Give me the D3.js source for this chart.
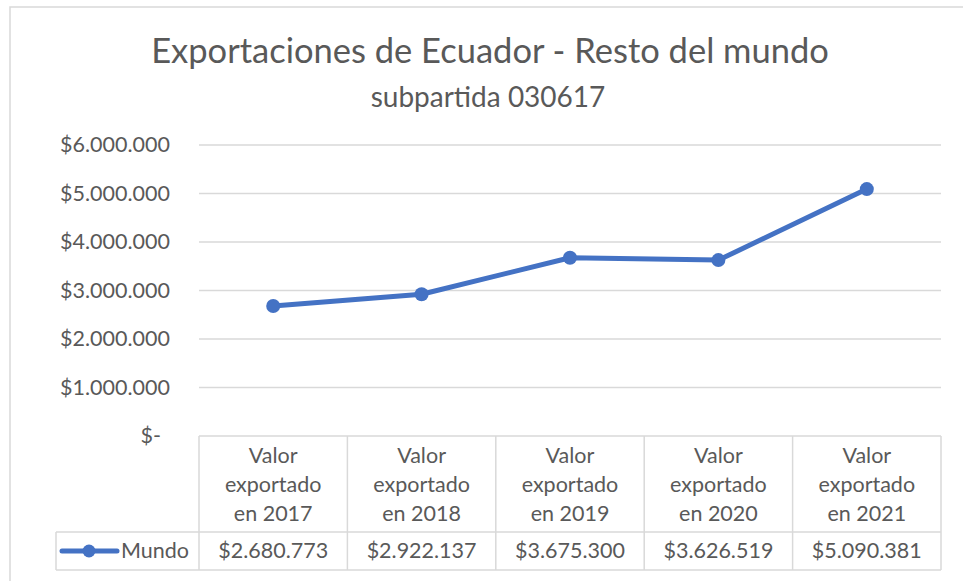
<!DOCTYPE html>
<html>
<head>
<meta charset="utf-8">
<script src="https://cdn.jsdelivr.net/npm/d3@7"></script>
<style>
  body { margin: 0; background: #fff; }
  svg { display: block; font-family: Lato, "Open Sans", sans-serif; }
</style>
</head>
<body>
<svg id="chart" width="963" height="581"></svg>
<script>
// data
var years = ["2017", "2018", "2019", "2020", "2021"];
var values = [2680773, 2922137, 3675300, 3626519, 5090381];
var yTicks = [0, 1000000, 2000000, 3000000, 4000000, 5000000, 6000000];
var seriesName = "Mundo";

var blue = "#4472C4";
var grid = "#d9d9d9";
var textCol = "#595959";
var fs = 21.5; // table / axis text size

var svg = d3.select("#chart");

// chart border
svg.append("rect").attr("x", 10).attr("y", 7).attr("width", 970).attr("height", 600)
  .attr("fill", "none").attr("stroke", grid).attr("stroke-width", 1.5);

// titles
svg.append("text").attr("x", 490).attr("y", 63).attr("text-anchor", "middle")
  .attr("font-size", 34.5).attr("fill", textCol).text("Exportaciones de Ecuador - Resto del mundo");
svg.append("text").attr("x", 488).attr("y", 107).attr("text-anchor", "middle")
  .attr("font-size", 28).attr("fill", textCol).text("subpartida 030617");

var plotL = 199, plotR = 941, plotT = 145, plotB = 436;
var x = d3.scaleBand().domain(years).range([plotL, plotR]);
var y = d3.scaleLinear().domain([0, 6000000]).range([plotB, plotT]);

// number format with dots as thousand separators
var fmt = function(v) { return "$" + d3.format(",")(v).replace(/,/g, "."); };

// gridlines
svg.append("g").selectAll("line").data(yTicks.filter(function(d){ return d > 0; })).enter()
  .append("line")
  .attr("x1", plotL).attr("x2", plotR)
  .attr("y1", function(d){ return y(d); }).attr("y2", function(d){ return y(d); })
  .attr("stroke", grid).attr("stroke-width", 1.5);

// y axis labels
svg.append("g").selectAll("text").data(yTicks).enter()
  .append("text")
  .attr("x", function(d){ return d === 0 ? 161 : 170; })
  .attr("y", function(d){ return y(d) + 7; })
  .attr("text-anchor", "end").attr("font-size", fs).attr("fill", textCol)
  .text(function(d){ return d === 0 ? "$-" : fmt(d); });

// data table
var rowH = 532, rowB = 570;
var tbl = svg.append("g").attr("stroke", grid).attr("stroke-width", 1.5);
tbl.append("line").attr("x1", plotL).attr("x2", plotR).attr("y1", plotB).attr("y2", plotB);
tbl.append("line").attr("x1", 56).attr("x2", plotR).attr("y1", rowH).attr("y2", rowH);
tbl.append("line").attr("x1", 56).attr("x2", plotR).attr("y1", rowB).attr("y2", rowB);
tbl.append("line").attr("x1", 56).attr("x2", 56).attr("y1", rowH).attr("y2", rowB);
tbl.selectAll(".v").data(years).enter().append("line")
  .attr("x1", function(d){ return x(d); }).attr("x2", function(d){ return x(d); })
  .attr("y1", plotB).attr("y2", rowB);
tbl.append("line").attr("x1", plotR).attr("x2", plotR).attr("y1", plotB).attr("y2", rowB);

// header cells
var head = svg.append("g").selectAll("text").data(years).enter()
  .append("text").attr("text-anchor", "middle").attr("font-size", fs).attr("fill", textCol);
head.each(function(d) {
  var t = d3.select(this);
  var cx = x(d) + x.bandwidth() / 2;
  ["Valor", "exportado", "en " + d].forEach(function(s, i) {
    t.append("tspan").attr("x", cx).attr("y", 463 + i * 29).text(s);
  });
});

// value cells
svg.append("g").selectAll("text").data(values).enter()
  .append("text")
  .attr("x", function(d, i){ return x(years[i]) + x.bandwidth() / 2; })
  .attr("y", 558).attr("text-anchor", "middle").attr("font-size", fs).attr("fill", textCol)
  .text(function(d){ return fmt(d); });

// legend key in the table
svg.append("line").attr("x1", 62).attr("x2", 117).attr("y1", 551).attr("y2", 551)
  .attr("stroke", blue).attr("stroke-width", 5).attr("stroke-linecap", "round");
svg.append("circle").attr("cx", 89).attr("cy", 551).attr("r", 6.5).attr("fill", blue);
svg.append("text").attr("x", 121).attr("y", 558).attr("font-size", fs).attr("fill", textCol).text(seriesName);

// line series
var line = d3.line()
  .x(function(d, i){ return x(years[i]) + x.bandwidth() / 2; })
  .y(function(d){ return y(d); });
svg.append("path").datum(values).attr("d", line)
  .attr("fill", "none").attr("stroke", blue).attr("stroke-width", 5).attr("stroke-linejoin", "round");
svg.append("g").selectAll("circle").data(values).enter()
  .append("circle")
  .attr("cx", function(d, i){ return x(years[i]) + x.bandwidth() / 2; })
  .attr("cy", function(d){ return y(d); })
  .attr("r", 7).attr("fill", blue);
</script>
</body>
</html>
